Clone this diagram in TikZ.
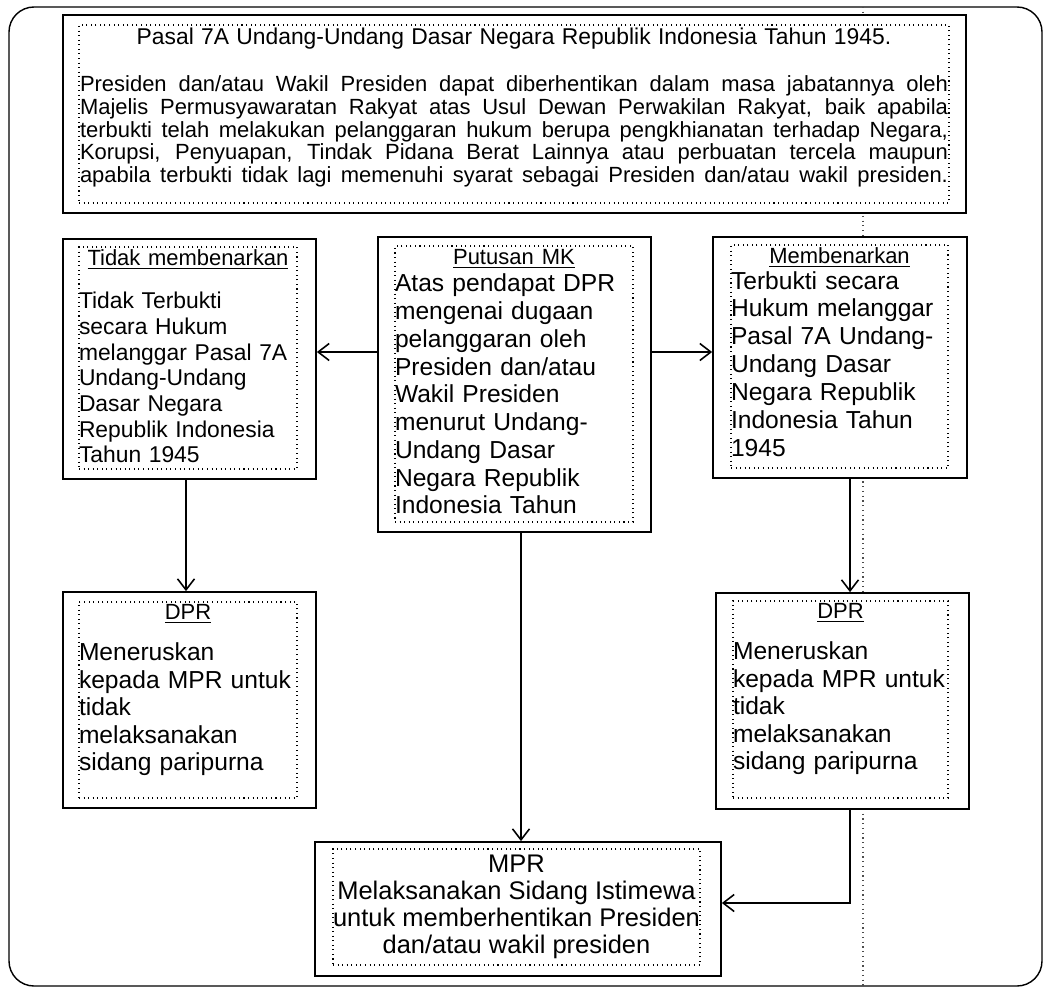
\documentclass[tikz,border=0pt]{standalone}
\usepackage{fontspec}
\setmainfont{Liberation Sans}
\usetikzlibrary{arrows.meta}
\newcommand{\boxhead}[1]{\makebox[\linewidth]{\fontsize{12.5}{14}\selectfont\underline{#1}}}
\newcommand{\fullline}[1]{{\spaceskip=0.3em plus 1em\xspaceskip=0.3em plus 1em\makebox[\linewidth][s]{#1}}}

\begin{document}
\begin{tikzpicture}[
    box/.style={draw,line width=1pt,fill=white,inner sep=0pt},
    inbox/.style={draw,dotted,line width=0.6pt,inner sep=0pt},
    txt/.style={anchor=north,inner sep=0pt,align=left},
    arr/.style={line width=0.9pt,-{Straight Barb[length=2.2mm,width=3.4mm]}}
  ]
  \useasboundingbox (0,0) rectangle (20.96,-19.74);
  % frame and dotted guide
  \draw[line width=0.8pt,rounded corners=0.5cm] (0.18,-0.14) rectangle (20.84,-19.72);
  \draw[dotted,line width=0.7pt,black!70] (17.26,-0.14) -- (17.26,-19.74);

  % top box
  \node[box,minimum width=18.06cm,minimum height=3.96cm] (pasal) at (10.29,-2.28) {};
  \node[inbox,minimum width=17.4cm,minimum height=3.56cm] (pasalin) at (10.28,-2.28) {};
  \node[txt,text width=17.36cm,font=\fontsize{12.5}{13}\selectfont] (pasaltxt)
    at ([yshift=-0.07cm]pasalin.north)
    {\makebox[\linewidth]{\fontsize{13}{13}\selectfont Pasal 7A Undang-Undang Dasar Negara Republik Indonesia Tahun 1945.}\\[13.5pt]
     \fullline{Presiden dan/atau Wakil Presiden dapat diberhentikan dalam masa jabatannya oleh}\\
     \fullline{Majelis Permusyawaratan Rakyat atas Usul Dewan Perwakilan Rakyat, baik apabila}\\
     \fullline{terbukti telah melakukan pelanggaran hukum berupa pengkhianatan terhadap Negara,}\\
     \fullline{Korupsi, Penyuapan, Tindak Pidana Berat Lainnya atau perbuatan tercela maupun}\\
     \fullline{apabila terbukti tidak lagi memenuhi syarat sebagai Presiden dan/atau wakil presiden.}};

  % left box
  \node[box,minimum width=5.06cm,minimum height=4.8cm] (lft) at (3.79,-7.18) {};
  \node[inbox,minimum width=4.36cm,minimum height=4.44cm] (lftin) at (3.76,-7.16) {};
  \node[txt,text width=4.36cm,font=\fontsize{13}{14.6}\selectfont] (lfttxt)
    at ([yshift=-0.06cm]lftin.north)
    {\boxhead{Tidak membenarkan}\\[10pt]
     Tidak Terbukti\\ secara Hukum\\ melanggar Pasal 7A\\ Undang-Undang\\
     Dasar Negara\\ Republik Indonesia\\ Tahun 1945};

  % center box
  \node[box,minimum width=5.46cm,minimum height=5.9cm] (ctr) at (10.29,-7.69) {};
  \node[inbox,minimum width=4.76cm,minimum height=5.52cm] (ctrin) at (10.28,-7.68) {};
  \node[txt,text width=4.76cm,font=\fontsize{14}{15.8}\selectfont] (ctrtxt)
    at ([yshift=-0.08cm]ctrin.north)
    {\boxhead{Putusan MK}\\[-0.5pt]
     Atas pendapat DPR\\ mengenai dugaan\\ pelanggaran oleh\\ Presiden dan/atau\\
     Wakil Presiden\\ menurut Undang-\\ Undang Dasar\\ Negara Republik\\ Indonesia Tahun};

  % right box
  \node[box,minimum width=5.08cm,minimum height=4.82cm] (rgt) at (16.8,-7.15) {};
  \node[inbox,minimum width=4.34cm,minimum height=4.46cm] (rgtin) at (16.79,-7.13) {};
  \node[txt,text width=4.34cm,font=\fontsize{14}{15.9}\selectfont] (rgttxt)
    at ([yshift=-0.06cm]rgtin.north)
    {\boxhead{Membenarkan}\\[-1.5pt]
     Terbukti secara\\ Hukum melanggar\\ Pasal 7A Undang-\\ Undang Dasar\\
     Negara Republik\\ Indonesia Tahun\\ 1945};

  % DPR boxes
  \node[box,minimum width=5.06cm,minimum height=4.32cm] (ldpr) at (3.79,-14.0) {};
  \node[inbox,minimum width=4.36cm,minimum height=3.92cm] (ldprin) at (3.76,-14.0) {};
  \node[txt,text width=4.36cm,font=\fontsize{14}{15.6}\selectfont] (ldprtxt)
    at ([yshift=-0.06cm]ldprin.north)
    {\boxhead{DPR}\\[7.7pt]
     Meneruskan\\ kepada MPR untuk\\ tidak\\ melaksanakan\\ sidang paripurna};

  \node[box,minimum width=5.06cm,minimum height=4.32cm] (rdpr) at (16.85,-14.02) {};
  \node[inbox,minimum width=4.3cm,minimum height=3.94cm] (rdprin) at (16.81,-13.99) {};
  \node[txt,text width=4.3cm,font=\fontsize{14}{15.6}\selectfont] (rdprtxt)
    at ([yshift=-0.06cm]rdprin.north)
    {\boxhead{DPR}\\[7.7pt]
     Meneruskan\\ kepada MPR untuk\\ tidak\\ melaksanakan\\ sidang paripurna};

  % MPR box
  \node[box,minimum width=8.12cm,minimum height=2.68cm] (mpr) at (10.36,-18.18) {};
  \node[inbox,minimum width=7.34cm,minimum height=2.32cm] (mprin) at (10.33,-18.14) {};
  \node[txt,align=center,font=\fontsize{14.5}{15.3}\selectfont] (mprtxt)
    at ([yshift=-0.12cm]mprin.north)
    {MPR\\ Melaksanakan Sidang Istimewa\\ untuk memberhentikan Presiden\\ dan/atau wakil presiden};

  % connectors
  \draw[arr] ([yshift=0.14cm]ctr.west |- lft.east) -- ([yshift=0.14cm]lft.east);
  \draw[arr] ([yshift=0.11cm]ctr.east |- rgt.west) -- ([yshift=0.11cm]rgt.west);
  \draw[arr] ([xshift=-0.07cm]lft.south) -- ([xshift=-0.07cm]lft.south |- ldpr.north);
  \draw[arr] ([xshift=0.2cm]rgt.south) -- ([xshift=0.2cm]rgt.south |- rdpr.north);
  \draw[arr] ([xshift=0.13cm]ctr.south) -- ([xshift=0.13cm]ctr.south |- mpr.north);
  \draw[arr] ([xshift=0.15cm]rdpr.south) |- ([yshift=0.12cm]mpr.east);
\end{tikzpicture}
\end{document}
